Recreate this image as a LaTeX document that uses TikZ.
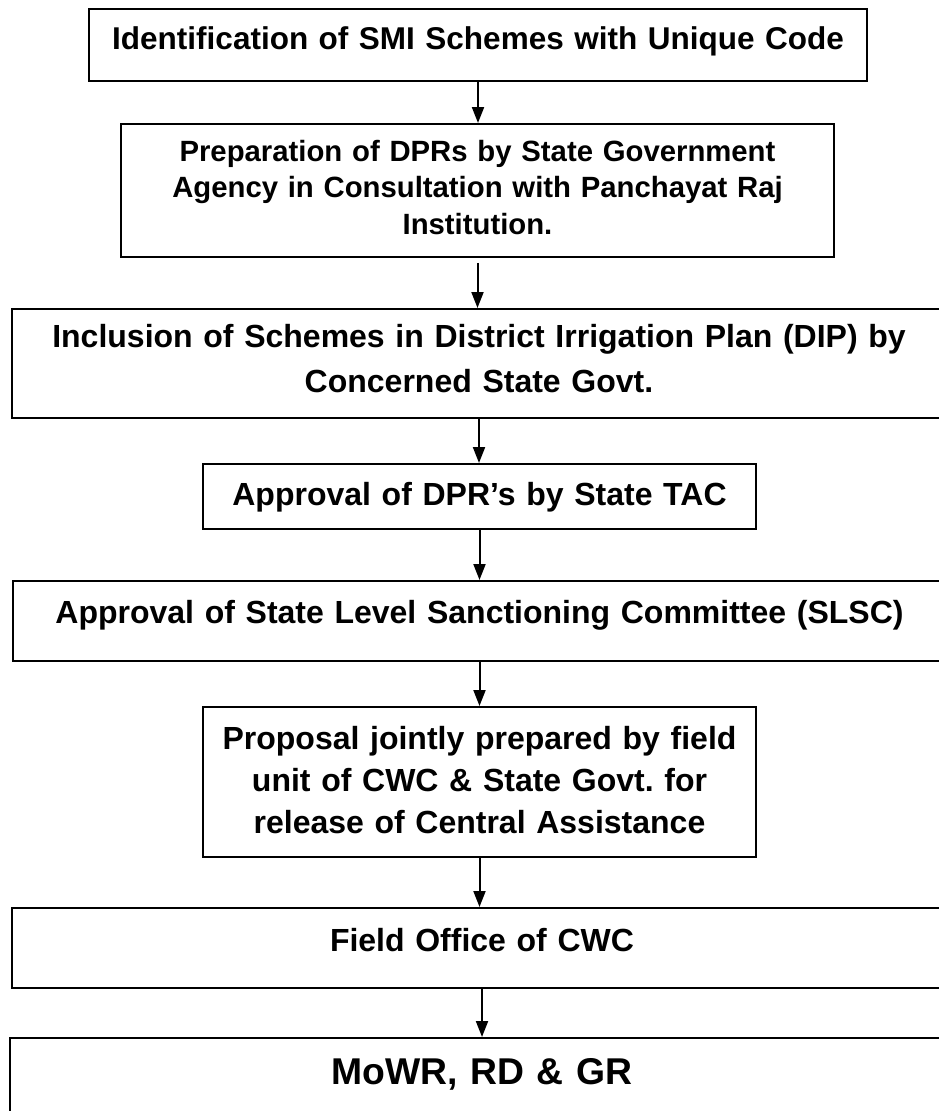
\documentclass[tikz,border=0pt]{standalone}
\usepackage{fontspec}
\setmainfont{Liberation Sans}
\usetikzlibrary{arrows.meta}
\frenchspacing
\newcommand{\stagefont}[2]{\fontsize{#1}{#2}\selectfont\bfseries}

\begin{document}
\begin{tikzpicture}[x=1pt, y=-1pt,
    every node/.style={inner sep=0pt, align=center},
    stage/.style={draw, line width=1.8pt, anchor=north, font=\stagefont{32}{36}},
    link/.style={-{Triangle[length=16pt,width=12pt]}, line width=2pt}
  ]
  \path[use as bounding box, clip] (0,0) rectangle (939,1111);
  % stages, top to bottom
  \node[stage, text width=778pt, text height=41pt, text depth=31pt,
        font=\stagefont{31.5}{36}] (ident) at (478,8)
    {Identification of SMI Schemes with Unique Code};
  \node[stage, text width=713pt, text height=37.5pt, text depth=95.5pt,
        font=\stagefont{29.3}{36.5}] (dpr) at (477.5,123)
    {Preparation of DPRs by State Government\\
     Agency in Consultation with Panchayat Raj\\
     Institution.};
  \node[stage, text width=934pt, text height=39pt, text depth=70pt,
        font=\stagefont{32}{45}] (dip) at (479,308)
    {Inclusion of Schemes in District Irrigation Plan (DIP) by\\
     Concerned State Govt.};
  \node[stage, text width=553pt, text height=42pt, text depth=23pt] (tac) at (479.5,463)
    {Approval of DPR’s by State TAC};
  \node[stage, text width=933pt, text height=43pt, text depth=37pt] (slsc) at (479.5,580)
    {Approval of State Level Sanctioning Committee (SLSC)};
  \node[stage, text width=553pt, text height=43pt, text depth=107pt,
        font=\stagefont{32}{42}] (prop) at (479.5,706)
    {Proposal jointly prepared by field\\
     unit of CWC \& State Govt. for\\
     release of Central Assistance};
  \node[stage, text width=940pt, text height=44pt, text depth=36pt] (cwc) at (482,907)
    {Field Office of CWC};
  \node[stage, text width=944pt, text height=47pt, text depth=66pt,
        font=\stagefont{37.3}{43}] (mowr) at (482,1037)
    {MoWR, RD \& GR};
  % arrows
  \draw[link] (ident.south) -- (ident.south |- dpr.north);
  \draw[link, shorten <=5pt] (dpr.south) -- (dpr.south |- dip.north);
  \draw[link] (dip.south) -- (dip.south |- tac.north);
  \draw[link] (tac.south) -- (tac.south |- slsc.north);
  \draw[link] (slsc.south) -- (slsc.south |- prop.north);
  \draw[link] (prop.south) -- (prop.south |- cwc.north);
  \draw[link] (cwc.south) -- (cwc.south |- mowr.north);
\end{tikzpicture}
\end{document}
